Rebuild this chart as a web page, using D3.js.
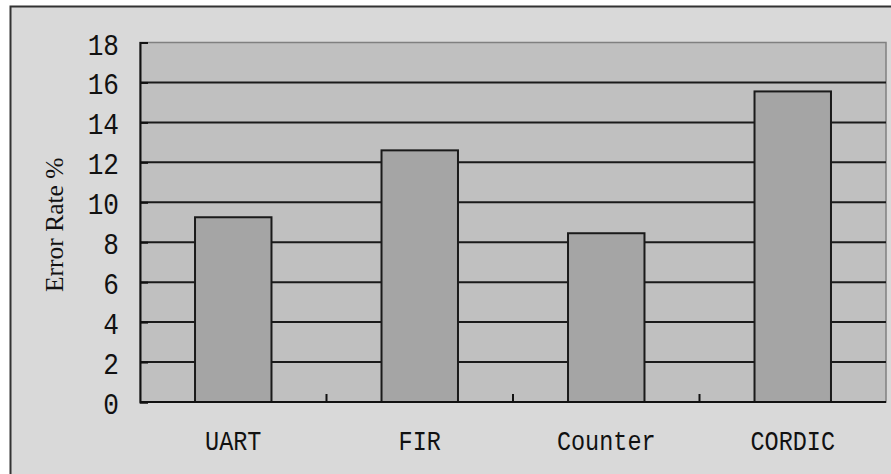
<!DOCTYPE html>
<html>
<head>
<meta charset="utf-8">
<script src="https://cdn.jsdelivr.net/npm/d3@7"></script>
<style>
  html, body { margin: 0; padding: 0; background: #ffffff; }
  svg { display: block; }
</style>
</head>
<body>
<svg id="chart" width="891" height="474"></svg>
<script>
// Error rate per design
const categories = ["UART", "FIR", "Counter", "CORDIC"];
const errorRates = [9.25, 12.6, 8.45, 15.55];
const yTicks = [0, 2, 4, 6, 8, 10, 12, 14, 16, 18];
const yLabel = "Error Rate %";

const svg = d3.select("#chart");
const W = 891, H = 474;
const plot = { left: 140, right: 886, top: 42.5, bottom: 402 };

// Outer chart frame (runs past the right and bottom edges)
svg.append("rect")
  .attr("x", 10.5).attr("y", 6.5)
  .attr("width", W + 20).attr("height", H + 20)
  .attr("fill", "#d9d9d9")
  .attr("stroke", "#333").attr("stroke-width", 2);

const x = d3.scaleBand()
  .domain(categories)
  .range([plot.left, plot.right])
  .paddingInner(0.59)
  .paddingOuter(0.295);

const y = d3.scaleLinear()
  .domain([0, 18])
  .range([plot.bottom, plot.top]);

// Plot area background
svg.append("rect")
  .attr("x", plot.left).attr("y", plot.top)
  .attr("width", plot.right - plot.left)
  .attr("height", plot.bottom - plot.top)
  .attr("fill", "#c0c0c0")
  .attr("stroke", "#808080").attr("stroke-width", 1.5);

// Horizontal gridlines
svg.append("g")
  .selectAll("line")
  .data(yTicks.filter(d => d > 0 && d < 18))
  .join("line")
  .attr("x1", plot.left).attr("x2", plot.right)
  .attr("y1", d => y(d)).attr("y2", d => y(d))
  .attr("stroke", "#1a1a1a").attr("stroke-width", 2);

// Bars
svg.append("g")
  .selectAll("rect")
  .data(categories.map((c, i) => ({ c, v: errorRates[i] })))
  .join("rect")
  .attr("x", d => x(d.c))
  .attr("y", d => y(d.v))
  .attr("width", x.bandwidth())
  .attr("height", d => y(0) - y(d.v))
  .attr("fill", "#a5a5a5")
  .attr("stroke", "#1a1a1a").attr("stroke-width", 2);

// Y axis
const yAxis = svg.append("g")
  .attr("transform", `translate(${plot.left},0)`)
  .call(d3.axisLeft(y).tickValues(yTicks).tickSize(-8).tickPadding(0).tickFormat(() => ""));
yAxis.select(".domain").attr("stroke", "#111").attr("stroke-width", 2);
yAxis.selectAll(".tick line").attr("stroke", "#111").attr("stroke-width", 2);

// Y tick labels
svg.append("g")
  .selectAll("text")
  .data(yTicks)
  .join("text")
  .attr("transform", d => `translate(119,${y(d) + 12}) scale(0.9,1)`)
  .attr("text-anchor", "end")
  .attr("font-family", "'Liberation Mono', 'Courier New', monospace")
  .attr("font-size", 29)
  .attr("fill", "#111")
  .text(d => d);

// X axis with band boundary ticks pointing up
const boundaries = categories.slice(1).map(c => x(c) - x.step() * x.paddingInner() / 2);
const xAxisG = svg.append("g");
xAxisG.append("line")
  .attr("x1", plot.left).attr("x2", plot.right)
  .attr("y1", plot.bottom).attr("y2", plot.bottom)
  .attr("stroke", "#111").attr("stroke-width", 2);
xAxisG.selectAll("line.tk")
  .data(boundaries)
  .join("line")
  .attr("class", "tk")
  .attr("x1", d => d).attr("x2", d => d)
  .attr("y1", plot.bottom).attr("y2", plot.bottom - 8)
  .attr("stroke", "#111").attr("stroke-width", 2);

// Category labels
svg.append("g")
  .selectAll("text")
  .data(categories)
  .join("text")
  .attr("transform", d => `translate(${x(d) + x.bandwidth() / 2},450) scale(0.84,1)`)
  .attr("text-anchor", "middle")
  .attr("font-family", "'Liberation Mono', 'Courier New', monospace")
  .attr("font-size", 28)
  .attr("fill", "#111")
  .text(d => d);

// Y axis title
svg.append("text")
  .attr("transform", "translate(63,292) rotate(-90)")
  .attr("text-anchor", "start")
  .attr("font-family", "'Liberation Serif', 'Times New Roman', serif")
  .attr("font-size", 25.5)
  .attr("fill", "#111")
  .text(yLabel);
</script>
</body>
</html>
